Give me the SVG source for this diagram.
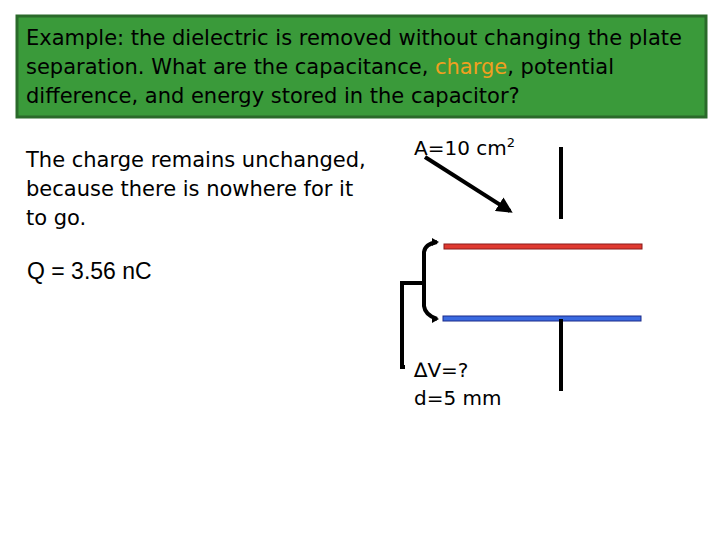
<svg xmlns="http://www.w3.org/2000/svg" width="720" height="540" viewBox="0 0 720 540">
<defs>
<style>
.t{font-family:"DejaVu Sans",sans-serif;font-size:21px;fill:#000}
.s{font-family:"DejaVu Sans",sans-serif;font-size:20px;fill:#000}
.l{stroke:#000;stroke-width:4;fill:none}
</style>
<marker id="ah" viewBox="0 0 10 10" refX="8" refY="5" markerWidth="4" markerHeight="4" orient="auto"><path d="M0,0L10,5L0,10z" fill="#000"/></marker>
</defs>
<rect width="720" height="540" fill="#fff"/>
<g id="header">
<rect x="17" y="16" width="689" height="101" fill="#3a9a3a" stroke="#2a6a2a" stroke-width="3"/>
<text class="t" x="26" y="45">Example: the dielectric is removed without changing the plate</text>
<text class="t" x="26" y="74">separation. What are the capacitance, <tspan fill="#f0a020">charge</tspan>, potential</text>
<text class="t" x="26" y="103">difference, and energy stored in the capacitor?</text>
</g>
<g id="explanation">
<text class="t" x="26" y="167">The charge remains unchanged,</text>
<text class="t" x="26" y="196">because there is nowhere for it</text>
<text class="t" x="26" y="225">to go.</text>
<text x="27" y="279" style="font-family:'Liberation Sans',sans-serif;font-size:23px">Q = 3.56 nC</text>
</g>
<g id="capacitor">
<rect x="444" y="244" width="198" height="5" fill="#e03a30" stroke="#8a1a1a" stroke-width="1"/>
<rect x="443" y="316" width="198" height="5" fill="#3a6ae0" stroke="#1a2a8a" stroke-width="1"/>
<line class="l" x1="561" y1="147" x2="561" y2="219"/>
<line class="l" x1="561" y1="319" x2="561" y2="391"/>
</g>
<g id="labels">
<text class="s" x="414" y="155">A=10 cm<tspan font-size="13" dy="-8">2</tspan></text>
<text class="s" x="414" y="377">∆V=?</text>
<text class="s" x="414" y="405">d=5 mm</text>
</g>
<g id="connectors">
<line class="l" x1="425" y1="157" x2="510" y2="211" marker-end="url(#ah)"/>
<path class="l" d="M437,242 Q425,244 424,252 L424,306 Q425,315 437,319" />
<path d="M432,238 L439,242 L432,246z M432,315 L439,319 L432,323z" fill="#000"/>
<path class="l" d="M424,283 L402,283 L402,367 L405,367"/>
</g>
</svg>
